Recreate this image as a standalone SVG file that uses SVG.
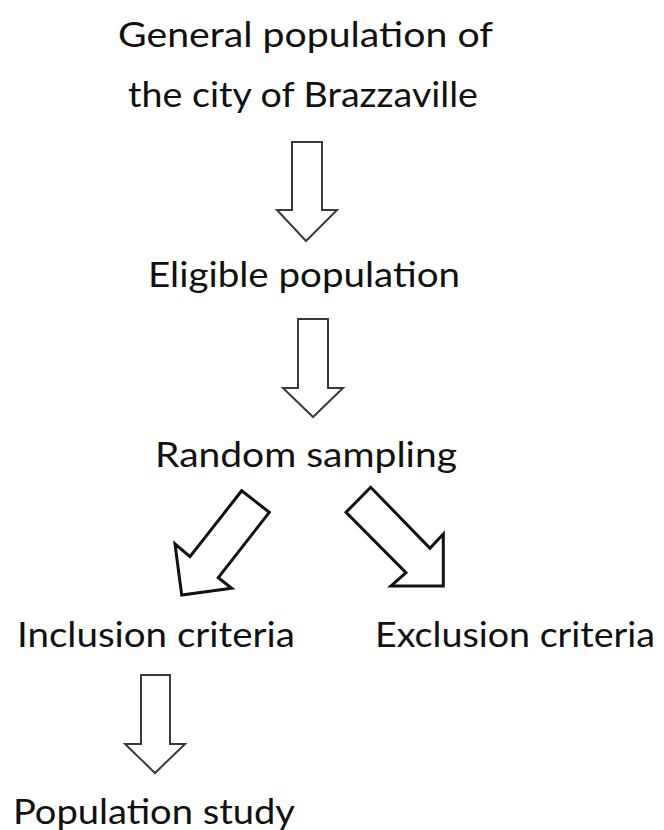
<svg xmlns="http://www.w3.org/2000/svg" width="664" height="830" viewBox="0 0 664 830">
<style>
text{font-family:Lato,"Open Sans","Liberation Sans",sans-serif;font-size:34px;fill:#111;}
.arr{fill:#fff;stroke:#3a3a3a;stroke-width:2;stroke-linejoin:miter;}
.darr{fill:#fff;stroke:#111;stroke-width:3;stroke-linejoin:miter;}
</style>
<rect width="664" height="830" fill="#fff"/>
<g id="n1"><text x="118" y="47" textLength="375" lengthAdjust="spacingAndGlyphs">General population of</text>
<text x="128" y="107" textLength="350" lengthAdjust="spacingAndGlyphs">the city of Brazzaville</text></g>
<g id="n2"><text x="148" y="287" textLength="312" lengthAdjust="spacingAndGlyphs">Eligible population</text></g>
<g id="n3"><text x="155" y="467" textLength="302" lengthAdjust="spacingAndGlyphs">Random sampling</text></g>
<g id="n4"><text x="17" y="647" textLength="278" lengthAdjust="spacingAndGlyphs">Inclusion criteria</text></g>
<g id="n5"><text x="375" y="647" textLength="280" lengthAdjust="spacingAndGlyphs">Exclusion criteria</text></g>
<g id="n6"><text x="13" y="824" textLength="282" lengthAdjust="spacingAndGlyphs">Population study</text></g>
<g id="connectors">
<polygon class="arr" points="292,142 322,142 322,210 337,210 306,241 277,210 292,210"/>
<polygon class="arr" points="298,319 328,319 328,388 343,388 313,417 283,388 298,388"/>
<polygon class="darr" points="241.7,490.7 269.3,512.3 218.3,577.7 231.7,588.3 181.7,595 175,544 190,556.7"/>
<polygon class="darr" points="370.7,487.3 346,512.3 406,572.7 391,586 443.3,586 443.3,534 430,548.3"/>
<polygon class="arr" points="141,675 170,675 170,744 185,744 155,773 125,744 141,744"/>
</g>
</svg>
